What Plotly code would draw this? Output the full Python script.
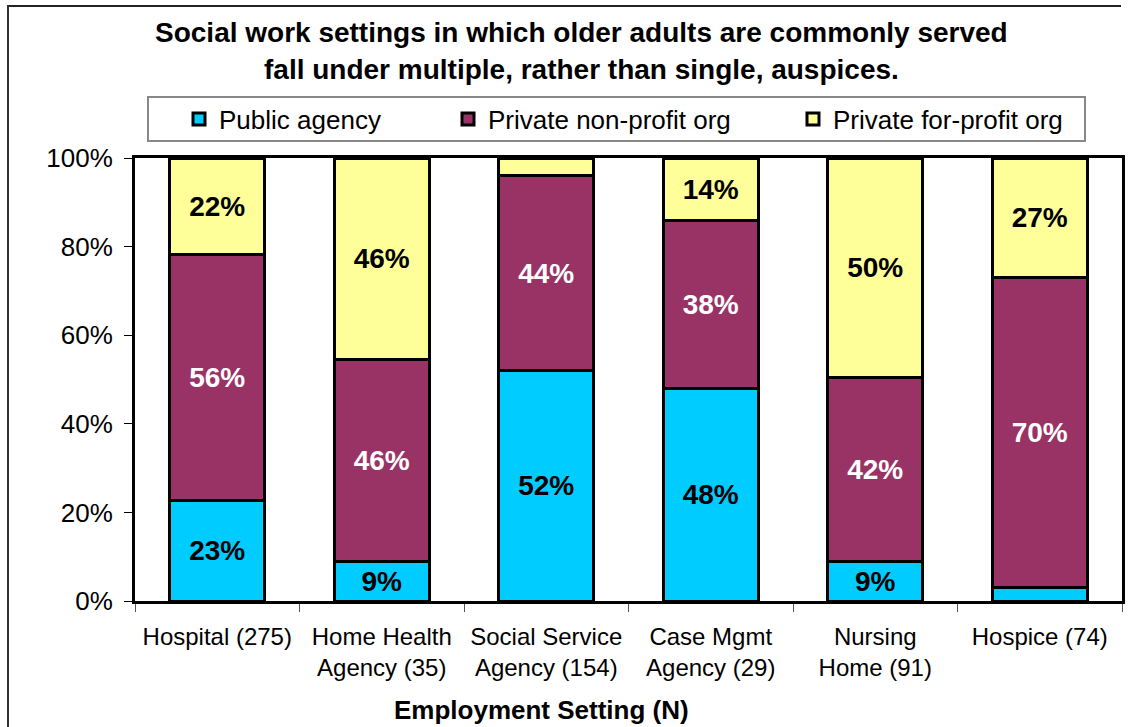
import plotly.graph_objects as go

# Employment settings (N = respondents) and auspice shares in percent
categories = [
    "Hospital (275)",
    "Home Health<br>Agency (35)",
    "Social Service<br>Agency (154)",
    "Case Mgmt<br>Agency (29)",
    "Nursing<br>Home (91)",
    "Hospice (74)",
]
public_agency = [23, 9, 52, 48, 9, 3]
private_nonprofit = [56, 46, 44, 38, 42, 70]
private_forprofit = [22, 46, 4, 14, 50, 27]

# which segment values carry a printed label
public_labels = [True, True, True, True, True, False]
nonprofit_labels = [True, True, True, True, True, True]
forprofit_labels = [True, True, False, True, True, True]

series_names = ["Public agency", "Private non-profit org", "Private for-profit org"]
series_colors = ["#00CCFF", "#993366", "#FFFF99"]
label_colors = ["black", "white", "black"]

FONT = "Arial, Liberation Sans, sans-serif"

# plot-area geometry in pixels
W, H = 1130, 727
L, R, T, B = 135, 8, 158, 126
PW, PH = W - L - R, H - T - B


def px_x(p):
    return (p - L) / PW


def px_y(p):
    return (H - B - p) / PH


fig = go.Figure()
series = [public_agency, private_nonprofit, private_forprofit]
shown = [public_labels, nonprofit_labels, forprofit_labels]
legends = ["legend", "legend2", "legend3"]
for vals, flags, name, color, tcolor, lg in zip(series, shown, series_names,
                                                 series_colors, label_colors, legends):
    fig.add_trace(go.Bar(
        x=categories,
        y=vals,
        name=name,
        legend=lg,
        marker=dict(color=color, line=dict(color="black", width=3)),
        text=[f"{v}%" if f else "" for v, f in zip(vals, flags)],
        textposition="inside",
        insidetextanchor="middle",
        textangle=0,
        constraintext="none",
        textfont=dict(family=FONT, size=28, color=tcolor, weight="bold"),
        hoverinfo="skip",
    ))

legend_common = dict(
    orientation="h",
    font=dict(family=FONT, size=26, color="black"),
    bgcolor="rgba(0,0,0,0)",
    borderwidth=0,
    xanchor="left",
    yanchor="middle",
    xref="paper",
    yref="paper",
)
legend_marker_px = [199, 468, 813]
legend_y = px_y(119)

fig.update_layout(
    width=W,
    height=H,
    margin=dict(l=L, r=R, t=T, b=B, autoexpand=False),
    paper_bgcolor="white",
    plot_bgcolor="white",
    barmode="stack",
    barnorm="percent",
    bargap=0.42,
    showlegend=True,
    legend=dict(legend_common, x=px_x(legend_marker_px[0] - 20), y=legend_y),
    legend2=dict(legend_common, x=px_x(legend_marker_px[1] - 20), y=legend_y),
    legend3=dict(legend_common, x=px_x(legend_marker_px[2] - 20), y=legend_y),
    xaxis=dict(
        showline=True, linecolor="black", linewidth=3, mirror=True,
        ticks="outside", tickson="boundaries", ticklen=8, tickwidth=1,
        tickcolor="#555",
        tickfont=dict(family=FONT, size=24, color="black"),
        ticklabelstandoff=12,
        showgrid=False,
    ),
    yaxis=dict(
        range=[0, 100], dtick=20, ticksuffix="%",
        showline=True, linecolor="black", linewidth=3, mirror=True,
        ticks="outside", ticklen=8, tickwidth=1, tickcolor="black",
        tickfont=dict(family=FONT, size=26, color="black"),
        ticklabelstandoff=6,
        showgrid=False, zeroline=False,
    ),
    annotations=[
        dict(text="<b>Social work settings in which older adults are commonly served</b>",
             x=px_x(581), y=px_y(32), xref="paper", yref="paper",
             xanchor="center", yanchor="middle", showarrow=False,
             font=dict(family=FONT, size=28, color="black")),
        dict(text="<b>fall under multiple, rather than single, auspices.</b>",
             x=px_x(581), y=px_y(69), xref="paper", yref="paper",
             xanchor="center", yanchor="middle", showarrow=False,
             font=dict(family=FONT, size=28, color="black")),
        dict(text="<b>Employment Setting (N)</b>",
             x=px_x(541), y=px_y(710), xref="paper", yref="paper",
             xanchor="center", yanchor="middle", showarrow=False,
             font=dict(family=FONT, size=26, color="black")),
    ],
    shapes=[
        # legend frame
        dict(type="rect", xref="paper", yref="paper",
             x0=px_x(148), x1=px_x(1085), y0=px_y(141), y1=px_y(97),
             line=dict(color="#888888", width=2), fillcolor="rgba(0,0,0,0)"),
        # outer chart frame
        dict(type="line", xref="paper", yref="paper",
             x0=px_x(7), x1=px_x(1121), y0=px_y(6), y1=px_y(6),
             line=dict(color="#222222", width=2)),
        dict(type="line", xref="paper", yref="paper",
             x0=px_x(8), x1=px_x(8), y0=px_y(5), y1=px_y(740),
             line=dict(color="#333333", width=2)),
    ],
)

fig.write_html("out.html")
